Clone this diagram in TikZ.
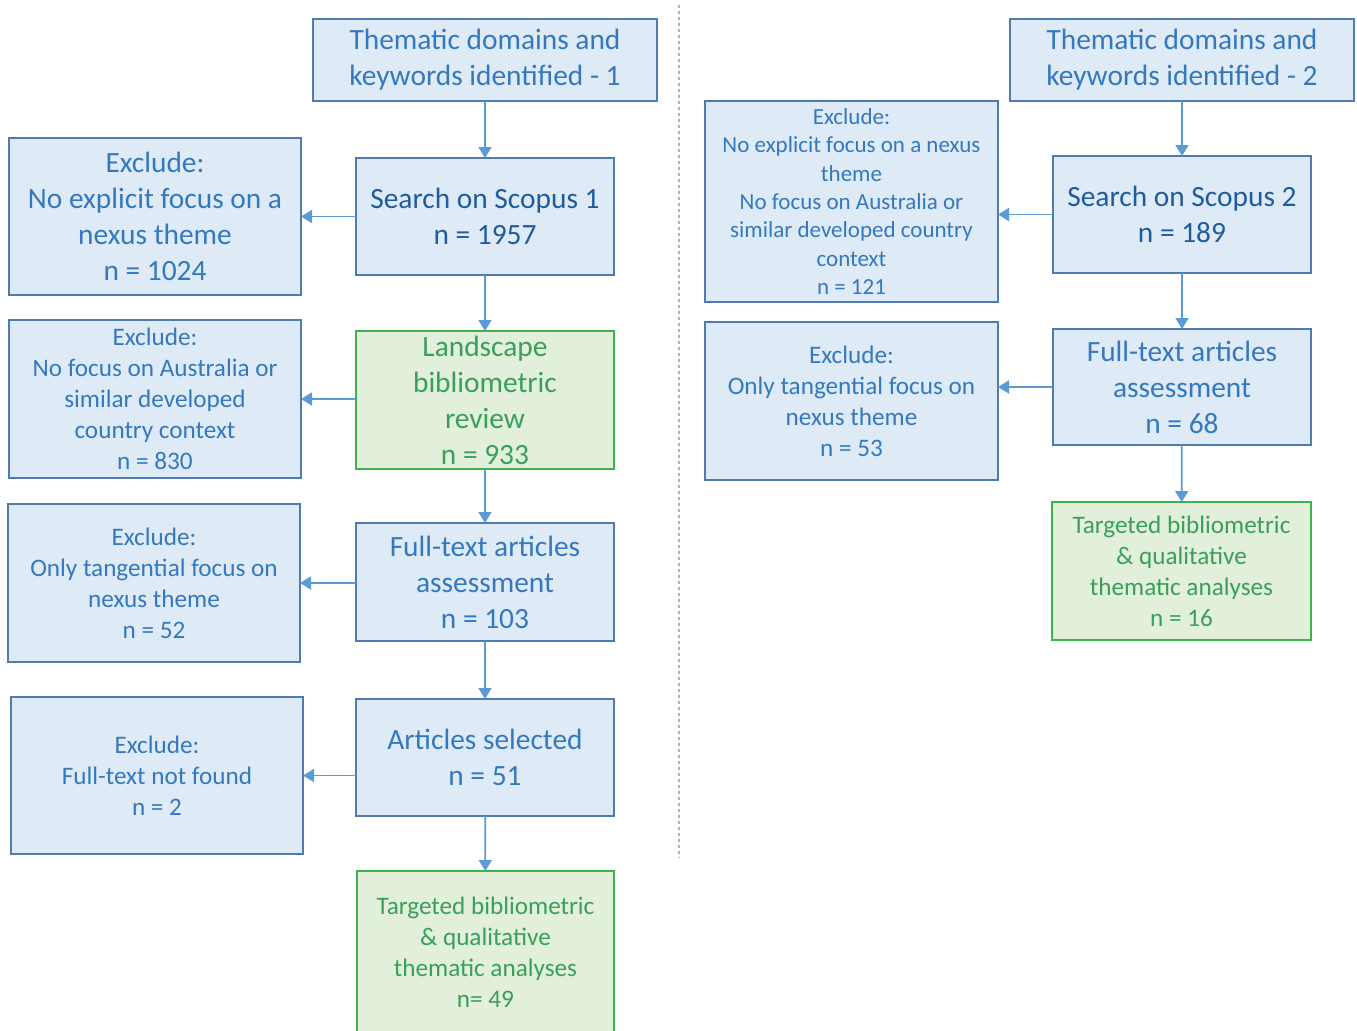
\documentclass[tikz,border=0pt]{standalone}
\usepackage{fontspec}
\setmainfont{Carlito}
\usetikzlibrary{arrows.meta}
\definecolor{boxfill}{HTML}{DEEAF6}
\definecolor{boxline}{HTML}{4F7BAE}
\definecolor{boxtext}{HTML}{3479BD}
\definecolor{boxdark}{HTML}{1F5C9E}
\definecolor{grnfill}{HTML}{E2EFDA}
\definecolor{grnline}{HTML}{3DB34E}
\definecolor{grntext}{HTML}{3A9F5C}
\definecolor{arrowc}{HTML}{5B9BD5}
\definecolor{divider}{HTML}{9DB4D2}
\tikzset{
  base/.style={rectangle, inner sep=0pt, outer sep=0pt, line width=1pt, align=center},
  bluebox/.style={base, draw=boxline, fill=boxfill, text=boxtext},
  darkbox/.style={bluebox, text=boxdark},
  greenbox/.style={base, draw=grnline, fill=grnfill, text=grntext},
  big/.style={font=\fontsize{14.7}{18}\selectfont},
  mid/.style={font=\fontsize{12.6}{15.5}\selectfont},
  small/.style={font=\fontsize{11.5}{14.2}\selectfont},
  flow/.style={draw=arrowc, line width=0.9pt, -{Triangle[width=6.5pt,length=5.5pt]}},
}
\begin{document}
\begin{tikzpicture}[x=0.5pt,y=-0.5pt]
\useasboundingbox (0,0) rectangle (1357,1030);
\fill[white] (0,0) rectangle (1357,1030);

% column divider
\draw[divider, line width=0.8pt, dash pattern=on 1.5pt off 1.5pt] (679,5) -- (679,858);

% ---- left column ----
\node[bluebox, big, minimum width=172pt, minimum height=41pt] (t1) at (485,60)
  {Thematic domains and\\keywords identified - 1};
\node[darkbox, big, minimum width=129pt, minimum height=58.5pt] (s1) at (485,216.5)
  {Search on Scopus 1\\n = 1957};
\node[greenbox, big, minimum width=129pt, minimum height=69pt] (l1) at (485,400)
  {Landscape\\bibliometric\\review\\n = 933};
\node[bluebox, big, minimum width=129pt, minimum height=59pt] (f1) at (485,582)
  {Full-text articles\\assessment\\n = 103};
\node[bluebox, big, minimum width=129pt, minimum height=58.5pt] (a1) at (485,757.5)
  {Articles selected\\n = 51};
\node[greenbox, mid, minimum width=128.5pt, minimum height=81pt] (g1) at (485.5,952)
  {Targeted bibliometric\\\& qualitative\\thematic analyses\\n= 49};

\node[bluebox, big, minimum width=146pt, minimum height=78.5pt] (e1) at (155,216.5)
  {Exclude:\\No explicit focus on a\\nexus theme\\n = 1024};
\node[bluebox, mid, minimum width=146pt, minimum height=79pt] (e2) at (155,399)
  {Exclude:\\No focus on Australia or\\similar developed\\country context\\n = 830};
\node[bluebox, mid, minimum width=146pt, minimum height=79pt] (e3) at (154,583)
  {Exclude:\\Only tangential focus on\\nexus theme\\n = 52};
\node[bluebox, mid, minimum width=146pt, minimum height=78.5pt] (e4) at (157,775.5)
  {Exclude:\\Full-text not found\\n = 2};

\draw[flow] (t1) -- (s1);
\draw[flow] (s1) -- (l1);
\draw[flow] (l1) -- (f1);
\draw[flow] (f1) -- (a1);
\draw[flow] (a1) -- (g1);
\draw[flow] (s1.west |- e1.east) -- (e1.east);
\draw[flow] (l1.west |- e2.east) -- (e2.east);
\draw[flow] (f1.west |- e3.east) -- (e3.east);
\draw[flow] (a1.west |- e4.east) -- (e4.east);

% ---- right column ----
\node[bluebox, big, minimum width=172pt, minimum height=41pt] (t2) at (1182,60)
  {Thematic domains and\\keywords identified - 2};
\node[darkbox, big, minimum width=129pt, minimum height=58.5pt] (s2) at (1182,214.5)
  {Search on Scopus 2\\n = 189};
\node[bluebox, big, minimum width=129pt, minimum height=58pt] (f2) at (1182,387)
  {Full-text articles\\assessment\\n = 68};
\node[greenbox, mid, minimum width=129.5pt, minimum height=69pt] (g2) at (1181.5,571)
  {Targeted bibliometric\\\& qualitative\\thematic analyses\\n = 16};

\node[bluebox, small, minimum width=146.5pt, minimum height=100.5pt] (r1) at (851.5,201.5)
  {Exclude:\\No explicit focus on a nexus\\theme\\No focus on Australia or\\similar developed country\\context\\n = 121};
\node[bluebox, mid, minimum width=146.5pt, minimum height=79pt] (r2) at (851.5,401)
  {Exclude:\\Only tangential focus on\\nexus theme\\n = 53};

\draw[flow] (t2) -- (s2);
\draw[flow] (s2) -- (f2);
\draw[flow] (f2) -- (g2);
\draw[flow] (s2.west) -- (s2.west -| r1.east);
\draw[flow] (f2.west) -- (f2.west -| r2.east);
\end{tikzpicture}
\end{document}
